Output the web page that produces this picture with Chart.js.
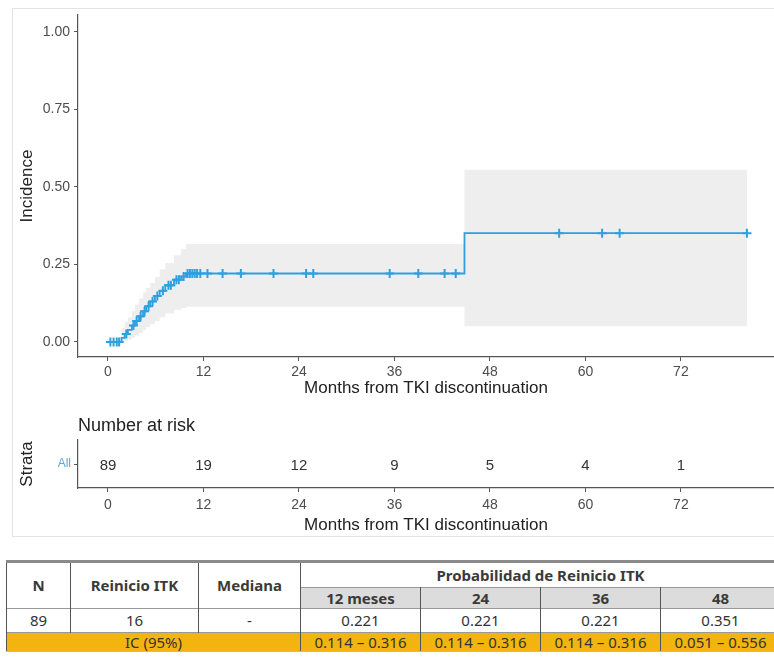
<!DOCTYPE html>
<html><head><meta charset="utf-8">
<script src="https://cdn.jsdelivr.net/npm/chart.js@4.4.1/dist/chart.umd.min.js"></script>
<style>
html,body{margin:0;padding:0;background:#fff;}
body{width:774px;height:657px;overflow:hidden;position:relative;font-family:"Liberation Sans",Arial,sans-serif;}
#frame{position:absolute;left:12px;top:8px;width:800px;height:529px;border:1px solid #e3e3e3;box-sizing:border-box;}
#main{position:absolute;left:0;top:0;}
#risk{position:absolute;left:0;top:400px;}
table{position:absolute;left:6px;top:560px;border-collapse:collapse;table-layout:fixed;width:774px;font-family:"Noto Sans",sans-serif;font-size:15px;color:#333;}
td,th{padding:0;text-align:center;vertical-align:middle;border-left:1.5px solid #555;border-right:1.5px solid #555;white-space:nowrap;overflow:hidden;line-height:1;}
thead tr:first-child th{border-top:3px solid #8a8a8a;}
th{font-weight:bold;background:#fff;color:#3a3a3a;}
tr.h1{height:26px;}
tr.h2{height:21px;}
tr.h2 th{background:#dcdcdc;border-top:1px solid #999;}
tr.d{height:24px;}
tr.d td{border-top:1px solid #999;}
tr.ic{height:19px;}
tr.ic td{background:#f2b50f;border-top:1px solid #999;border-bottom:1px solid #bbb;}
</style>
</head><body>
<div id="frame"></div>
<canvas id="main" width="774" height="400"></canvas>
<canvas id="risk" width="774" height="140"></canvas>
<table id="tbl"></table>
<script>
// ---- Data ----
const eventTimes = [0, 1.7, 2.1, 2.5, 3.0, 3.4, 3.9, 4.4, 4.8, 5.3, 5.9, 6.5, 7.2, 8.3, 9.2, 9.8, 44.8, 80.3];
const incidence  = [0, 0.013, 0.026, 0.039, 0.053, 0.068, 0.083, 0.099, 0.115, 0.131, 0.148, 0.165, 0.183, 0.201, 0.211, 0.221, 0.351, 0.351];
const ciLower    = [0, 0.001, 0.004, 0.008, 0.014, 0.021, 0.029, 0.038, 0.048, 0.058, 0.068, 0.080, 0.092, 0.104, 0.110, 0.114, 0.051, 0.051];
const ciUpper    = [0, 0.045, 0.065, 0.08, 0.10, 0.12, 0.14, 0.16, 0.175, 0.19, 0.21, 0.235, 0.255, 0.28, 0.30, 0.316, 0.556, 0.556];
const censorTimes = [0.3, 0.7, 1.1, 1.4, 2.3, 3.2, 3.6, 4.1, 4.6, 5.1, 5.6, 6.2, 6.9, 7.6, 7.9, 8.6, 8.9, 9.5,
  10.0, 10.3, 10.6, 10.9, 11.2, 11.6, 12.5, 14.4, 16.7, 20.8, 24.9, 25.8, 35.4, 39.0, 42.3, 43.7, 56.7, 62.1, 64.3, 80.3];
const xTicks = [0, 12, 24, 36, 48, 60, 72];
const yTicks = [0, 0.25, 0.5, 0.75, 1.0];
const riskTimes = [0, 12, 24, 36, 48, 60, 72];
const riskCounts = [89, 19, 12, 9, 5, 4, 1];
const strataLabels = ['All'];
const xTitle = 'Months from TKI discontinuation';
const yTitle = 'Incidence';
const riskTitle = 'Number at risk';
const riskYTitle = 'Strata';
// table
const tblHead = ['N', 'Reinicio ITK', 'Mediana'];
const tblGroup = 'Probabilidad de Reinicio ITK';
const tblTimes = ['12 meses', '24', '36', '48'];
const tblRow = ['89', '16', '-'];
const tblProb = ['0.221', '0.221', '0.221', '0.351'];
const tblCILabel = 'IC (95%)';
const tblCI = ['0.114 \u2013 0.316', '0.114 \u2013 0.316', '0.114 \u2013 0.316', '0.051 \u2013 0.556'];

// ---- helpers ----
function stepAt(t){ let v = 0; for (let i=0;i<eventTimes.length;i++){ if (eventTimes[i] <= t) v = incidence[i]; } return v; }
const BLUE = '#2E9FDF';
const AX = '#555';
const TICKC = '#4d4d4d';
const FONT = '"Liberation Sans", Arial, sans-serif';
const X_MIN = -3.77, X_MAX = 83.7;

function xScale(extra){
  return Object.assign({
    type:'linear', min:X_MIN, max:X_MAX,
    afterBuildTicks(s){ s.ticks = xTicks.map(v=>({value:v})); },
    ticks:{ color:TICKC, font:{family:FONT,size:14}, padding:3, maxRotation:0, autoSkip:false, callback:v=>String(v) },
    grid:{ display:true, drawOnChartArea:false, drawTicks:true, tickLength:4, color:AX, lineWidth:1 },
    border:{ display:true, color:AX, width:1.2 },
    title:{ display:true, text:xTitle, color:'#222', font:{family:FONT,size:17}, padding:{top:0,bottom:1} }
  }, extra||{});
}

// ---- main chart ----
new Chart(document.getElementById('main'), {
  type:'line',
  data:{ datasets:[
    { type:'scatter', data:censorTimes.map(t=>({x:t,y:stepAt(t)})), pointStyle:'cross', pointRadius:4.5, borderWidth:2, borderColor:BLUE, backgroundColor:BLUE, showLine:false },
    { data:eventTimes.map((t,i)=>({x:t,y:incidence[i]})), stepped:'before', borderColor:BLUE, borderWidth:1.8, pointRadius:0, fill:false },
    { data:eventTimes.map((t,i)=>({x:t,y:ciUpper[i]})), stepped:'before', borderWidth:0, borderColor:'rgba(0,0,0,0)', pointRadius:0, fill:false },
    { data:eventTimes.map((t,i)=>({x:t,y:ciLower[i]})), stepped:'before', borderWidth:0, borderColor:'rgba(0,0,0,0)', pointRadius:0, fill:'-1', backgroundColor:'#eeeeee' }
  ]},
  options:{
    responsive:false, animation:false, events:[],
    layout:{ padding:{left:0,right:0,top:15,bottom:0}, autoPadding:false },
    plugins:{ legend:{display:false}, tooltip:{enabled:false} },
    scales:{
      x: xScale({ afterFit(s){ s.height = 43; } }),
      y: {
        type:'linear', min:-0.0484, max:1.0548,
        afterBuildTicks(s){ s.ticks = yTicks.map(v=>({value:v})); },
        afterFit(s){ s.width = 78; },
        ticks:{ color:TICKC, font:{family:FONT,size:14}, padding:4, callback:v=>Number(v).toFixed(2) },
        grid:{ display:true, drawOnChartArea:false, drawTicks:true, tickLength:4, color:AX },
        border:{ display:true, color:AX, width:1.2 },
        title:{ display:true, text:yTitle, color:'#222', font:{family:FONT,size:17}, padding:{top:17,bottom:0} }
      }
    }
  }
});

// ---- risk table chart ----
const riskLabelsPlugin = {
  id:'riskLabels',
  afterDatasetsDraw(chart){
    const ctx = chart.ctx; const meta = chart.getDatasetMeta(0);
    ctx.save();
    ctx.font = '15px ' + FONT; ctx.fillStyle = '#333'; ctx.textAlign='center'; ctx.textBaseline='middle';
    meta.data.forEach((pt,i)=>ctx.fillText(String(riskCounts[i]), pt.x, pt.y + 2));
    ctx.font = '18px ' + FONT; ctx.fillStyle = '#222'; ctx.textAlign='left';
    ctx.fillText(riskTitle, chart.chartArea.left, 26);
    ctx.restore();
  }
};
new Chart(document.getElementById('risk'), {
  type:'scatter',
  data:{ datasets:[ { data:riskTimes.map(t=>({x:t,y:strataLabels[0]})), pointRadius:0, showLine:false } ] },
  options:{
    responsive:false, animation:false, events:[],
    layout:{ padding:{left:0,right:0,top:40,bottom:0}, autoPadding:false },
    plugins:{ legend:{display:false}, tooltip:{enabled:false} },
    scales:{
      x: xScale({ afterFit(s){ s.height = 52; }, ticks:{ color:TICKC, font:{family:FONT,size:14}, padding:5, maxRotation:0, autoSkip:false, callback:v=>String(v) },
                  title:{ display:true, text:xTitle, color:'#222', font:{family:FONT,size:17}, padding:{top:0,bottom:4} } }),
      y: {
        type:'category', labels:strataLabels, offset:true,
        afterFit(s){ s.width = 78; },
        ticks:{ color:'#5aa9e0', font:{family:FONT,size:12}, padding:3 },
        grid:{ display:true, drawOnChartArea:false, drawTicks:true, tickLength:4, color:AX },
        border:{ display:true, color:AX, width:1.2 },
        title:{ display:true, text:riskYTitle, color:'#222', font:{family:FONT,size:17}, padding:{top:17,bottom:0} }
      }
    }
  },
  plugins:[riskLabelsPlugin]
});

// ---- summary table ----
(function(){
  const widths = [64,128,102,120,120,120,120];
  let h = '<colgroup>' + widths.map(w=>'<col style="width:'+w+'px">').join('') + '</colgroup><thead>';
  h += '<tr class="h1">' + tblHead.map(t=>'<th rowspan="2">'+t+'</th>').join('') + '<th colspan="4">'+tblGroup+'</th></tr>';
  h += '<tr class="h2">' + tblTimes.map(t=>'<th>'+t+'</th>').join('') + '</tr></thead><tbody>';
  h += '<tr class="d">' + tblRow.map(t=>'<td>'+t+'</td>').join('') + tblProb.map(t=>'<td>'+t+'</td>').join('') + '</tr>';
  h += '<tr class="ic"><td colspan="3">'+tblCILabel+'</td>' + tblCI.map(t=>'<td>'+t+'</td>').join('') + '</tr></tbody>';
  document.getElementById('tbl').innerHTML = h;
})();
</script>
</body></html>
